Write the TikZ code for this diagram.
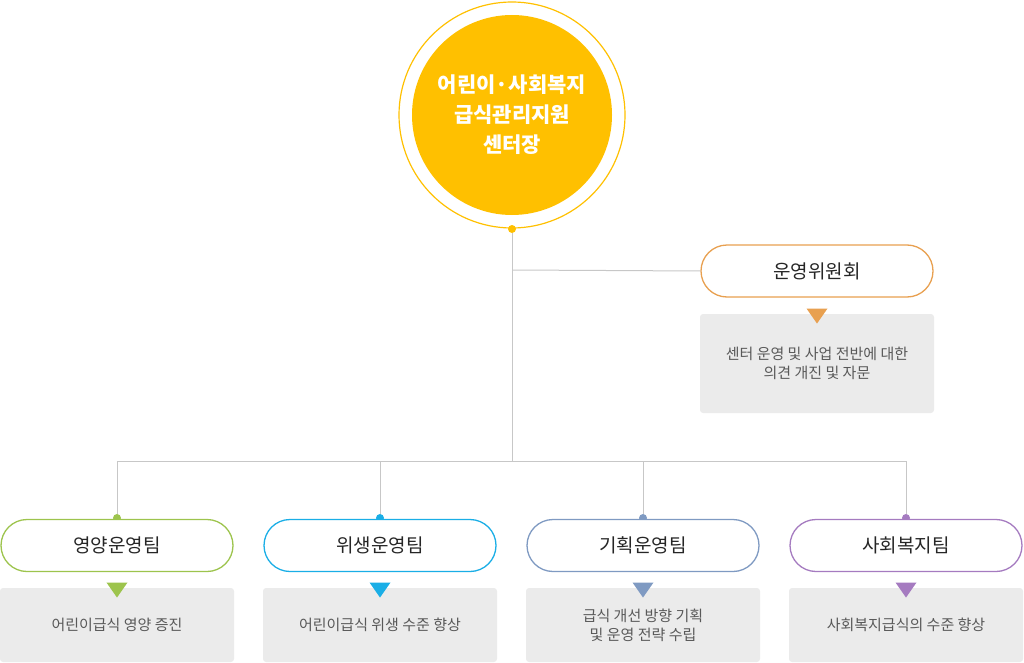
\documentclass[tikz,border=0pt]{standalone}
\usepackage{fontspec}
\usetikzlibrary{shapes.geometric}
\setmainfont{Noto Sans CJK KR}
\begin{document}
\begin{tikzpicture}[x=1pt,y=-1pt,
 team/.style={draw=#1,line width=1.3pt,rounded corners=26pt,fill=white,minimum width=232pt,minimum height=52pt,font=\fontsize{19}{22}\selectfont,text=black!85},
 desc/.style={fill=black!8,rounded corners=3pt,minimum width=234pt,align=center,font=\fontsize{15}{19}\selectfont,text=black!65},
 tri/.style={fill=#1,isosceles triangle,shape border rotate=-90,isosceles triangle apex angle=70,inner sep=0pt,minimum height=15pt,minimum width=19pt},
 ln/.style={draw=black!22,line width=1pt},
 dot/.style={circle,fill=#1,inner sep=0pt,minimum size=8pt}]
\useasboundingbox (0,0) rectangle (1024,663);
\definecolor{cy}{HTML}{FFC000}
\definecolor{cg}{HTML}{9DC44D}
\definecolor{cb}{HTML}{1AAEE6}
\definecolor{cs}{HTML}{7F9AC2}
\definecolor{cp}{HTML}{A57BC0}
\definecolor{co}{HTML}{E8A050}
\node[circle,draw=cy,line width=1.2pt,minimum size=226pt] (outer) at (512,115) {};
\node[circle,fill=cy,minimum size=200pt,align=center,text=white,font=\fontsize{21}{30}\selectfont\bfseries] (top) at (512,115) {어린이·사회복지\\급식관리지원\\센터장};
\node[dot=cy] (d0) at (512,229) {};
\coordinate (j1) at (512,270);
\coordinate (j2) at (512,461);
\draw[ln] (d0) -- (j2);
\node[team=co,minimum width=232pt] (com) at (817,271) {운영위원회};
\draw[ln] (j1) -- (com.west);
\node[desc,minimum height=99pt] (dc) at (817,363.5) {센터 운영 및 사업 전반에 대한\\의견 개진 및 자문};
\node[tri=co] (tc) at (817,314) {};
\foreach \x/\c/\n/\t/\d in {117/cg/a/영양운영팀/어린이급식 영양 증진, 380/cb/b/위생운영팀/어린이급식 위생 수준 향상, 643/cs/c/기획운영팀/{급식 개선 방향 기획\\및 운영 전략 수립}, 906/cp/d/사회복지팀/사회복지급식의 수준 향상}{
 \coordinate (h\n) at (\x,461);
 \node[dot=\c] (p\n) at (\x,518) {};
 \draw[ln] (h\n) -- (p\n);
 \node[team=\c] (t\n) at (\x,545.5) {\t};
 \node[desc,minimum height=74pt] (e\n) at (\x,625) {\d};
 \node[tri=\c] (r\n) at (\x,588) {};
}
\draw[ln] (ha) -- (hd);
\end{tikzpicture}
\end{document}
